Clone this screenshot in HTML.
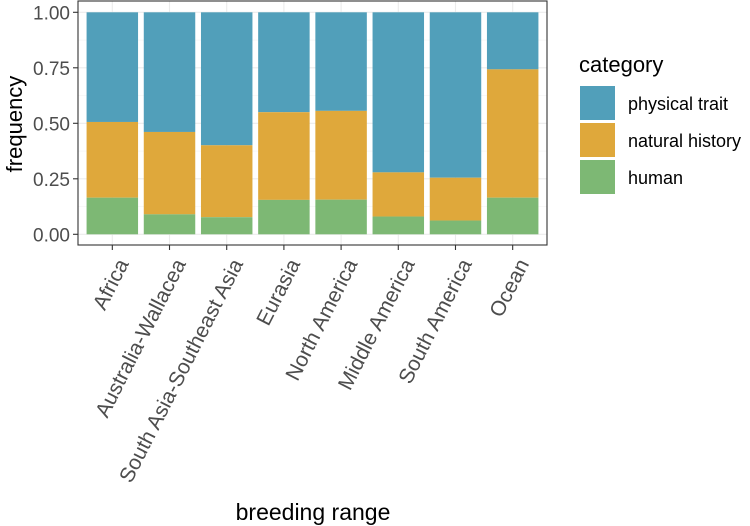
<!DOCTYPE html>
<html><head><meta charset="utf-8"><style>
body{margin:0;background:#fff;}
svg{display:block;font-family:"Liberation Sans",sans-serif;}
</style></head><body>
<svg id="chart" width="750" height="526">
<g id="grid"></g><g id="bars"></g><g id="axes"></g>
<text x="22" y="124" transform="rotate(-90 22 124)" text-anchor="middle" font-size="22" fill="#000">frequency</text>
<text x="313" y="520" text-anchor="middle" font-size="23" fill="#000">breeding range</text>
<g>
<text x="579" y="72" font-size="22" fill="#000">category</text>
<rect x="580" y="86" width="35" height="34" fill="#519fba"/>
<text x="628" y="110" font-size="18" fill="#000">physical trait</text>
<rect x="580" y="123" width="35" height="34" fill="#dfa83b"/>
<text x="628" y="147" font-size="18" fill="#000">natural history</text>
<rect x="580" y="160" width="35" height="34" fill="#7db874"/>
<text x="628" y="184" font-size="18" fill="#000">human</text>
</g>
</svg>
<script>
const categories = ["Africa","Australia-Wallacea","South Asia-Southeast Asia","Eurasia","North America","Middle America","South America","Ocean"];
const human = [0.165,0.09,0.077,0.155,0.156,0.08,0.062,0.165];
const naturalHistory = [0.341,0.371,0.324,0.395,0.400,0.199,0.193,0.578];
const yTicks = [0,0.25,0.5,0.75,1];
const yTickLabels = ["0.00","0.25","0.50","0.75","1.00"];

const NS="http://www.w3.org/2000/svg";
const L=78,R=547,T=1,B=245;
const unit=(R-L)/(categories.length-1+1.2);
const xc=i=>L+0.6*unit+i*unit;
const y=v=>234.3-v*222;
function mk(tag,attrs,parent){const e=document.createElementNS(NS,tag);for(const k in attrs)e.setAttribute(k,attrs[k]);parent.appendChild(e);return e;}
const grid=document.getElementById('grid'),bars=document.getElementById('bars'),axes=document.getElementById('axes');
mk('rect',{x:L,y:T,width:R-L,height:B-T,fill:'#fff'},grid);
for(let i=0;i<yTicks.length;i++){
  const g=mk('line',{x1:L,x2:R,y1:y(yTicks[i]),y2:y(yTicks[i]),stroke:'#ebebeb','stroke-width':1.1},grid);
  
  
  if(i<yTicks.length-1){const m=mk('line',{x1:L,x2:R,y1:y((yTicks[i]+yTicks[i+1])/2),y2:y((yTicks[i]+yTicks[i+1])/2),stroke:'#f3f3f3','stroke-width':0.6},grid);
  
  }
}
categories.forEach((c,i)=>{
  const g=mk('line',{x1:xc(i),x2:xc(i),y1:T,y2:B,stroke:'#ebebeb','stroke-width':1.1},grid);
  
  
});
const bw=unit*0.9;
categories.forEach((c,i)=>{
  const h0=human[i],n1=h0+naturalHistory[i];
  const segs=[[n1,1,'#519fba','physical-trait'],[h0,n1,'#dfa83b','natural-history'],[0,h0,'#7db874','human']];
  segs.forEach(s=>{
    const r=mk('rect',{x:xc(i)-bw/2,y:y(s[1]),width:bw,height:y(s[0])-y(s[1]),fill:s[2]},bars);
    
    
  });
  const t=mk('line',{x1:xc(i),x2:xc(i),y1:B,y2:B+5,stroke:'#333','stroke-width':1.1},axes);
  
  
  const lx=xc(i)+4,ly=257;
  const tx=mk('text',{x:0,y:0,transform:`translate(${lx},${ly}) rotate(-63)`,'text-anchor':'end','dominant-baseline':'hanging','font-size':21,fill:'#4d4d4d'},axes);
  tx.textContent=c;
  
  
});
yTicks.forEach((v,i)=>{
  const t=mk('line',{x1:L-5,x2:L,y1:y(v),y2:y(v),stroke:'#333','stroke-width':1.1},axes);
  
  
  const tx=mk('text',{x:L-8,y:y(v)+7,'text-anchor':'end','font-size':19,fill:'#4d4d4d'},axes);
  tx.textContent=yTickLabels[i];
  
  
});
const b=mk('rect',{x:L,y:T,width:R-L,height:B-T,fill:'none',stroke:'#333','stroke-width':1.1},axes);


</script>
</body></html>
